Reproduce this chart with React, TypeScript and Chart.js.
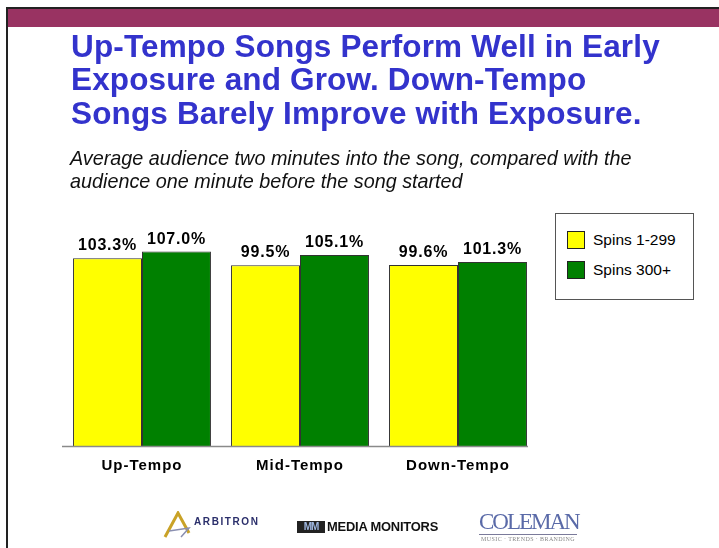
import React, { useEffect, useRef } from "react";
import { Chart, registerables } from "chart.js";

Chart.register(...registerables);

const categories: string[] = ["Up-Tempo", "Mid-Tempo", "Down-Tempo"];
const seriesLabels: string[] = ["Spins 1-299", "Spins 300+"];
const spinsLow: number[] = [103.3, 99.5, 99.6];
const spinsHigh: number[] = [107.0, 105.1, 101.3];
const seriesColors: string[] = ["#FFFF00", "#008000"];
const titleLines: string[] = [
  "Up-Tempo Songs Perform Well in Early",
  "Exposure and Grow. Down-Tempo",
  "Songs Barely Improve with Exposure.",
];
const subtitleLines: string[] = [
  "Average audience two minutes into the song, compared with the",
  "audience one minute before the song started",
];

const FONT = 'Arial, "Liberation Sans", sans-serif';

const labelPlugin = {
  id: "labels",
  afterDatasetsDraw(chart: any) {
    const ctx = chart.ctx;
    const area = chart.chartArea;
    const xScale = chart.scales.x;
    const yScale = chart.scales.y;
    const y0 = yScale.getPixelForValue(0);
    const lastMeta = chart.getDatasetMeta(chart.data.datasets.length - 1);
    const lastBar: any = lastMeta.data[lastMeta.data.length - 1];
    const right = lastBar.x + lastBar.width / 2 + 1;
    ctx.save();
    ctx.strokeStyle = "#8a8a8a";
    ctx.lineWidth = 1.5;
    ctx.beginPath();
    ctx.moveTo(area.left - 1, y0 + 0.5);
    ctx.lineTo(right, y0 + 0.5);
    ctx.stroke();

    ctx.fillStyle = "#000";
    ctx.textAlign = "center";
    ctx.textBaseline = "alphabetic";
    ctx.font = `bold 16px ${FONT}`;
    (ctx as any).letterSpacing = "0.8px";
    chart.data.datasets.forEach((ds: any, di: number) => {
      const meta = chart.getDatasetMeta(di);
      meta.data.forEach((el: any, i: number) => {
        ctx.fillText(`${Number(ds.data[i]).toFixed(1)}%`, el.x, el.y - 8);
      });
    });

    ctx.font = `bold 15px ${FONT}`;
    (ctx as any).letterSpacing = "1px";
    categories.forEach((c, i) => {
      ctx.fillText(c, xScale.getPixelForValue(i), y0 + 24);
    });
    ctx.restore();
  },
};

function ChartCanvas() {
  const ref = useRef<HTMLCanvasElement | null>(null);
  useEffect(() => {
    if (!ref.current) return;
    const chart = new Chart(ref.current, {
      type: "bar",
      data: {
        labels: categories,
        datasets: [
          {
            label: seriesLabels[0],
            data: spinsLow,
            backgroundColor: seriesColors[0],
            borderColor: "#333333",
            borderWidth: 1,
            categoryPercentage: 0.873,
            barPercentage: 1.0,
          },
          {
            label: seriesLabels[1],
            data: spinsHigh,
            backgroundColor: seriesColors[1],
            borderColor: "#333333",
            borderWidth: 1,
            categoryPercentage: 0.873,
            barPercentage: 1.0,
          },
        ],
      },
      options: {
        responsive: false,
        animation: false,
        devicePixelRatio: 1,
        layout: { padding: { left: 63, right: 182, top: 228, bottom: 102 } },
        plugins: {
          legend: { display: false },
          title: { display: false },
          tooltip: { enabled: false },
        },
        scales: {
          x: { display: false, offset: true },
          y: { display: false, min: 0, max: 120 },
        },
      },
      plugins: [labelPlugin],
    });
    return () => chart.destroy();
  }, []);
  return (
    <canvas
      ref={ref}
      width={719}
      height={548}
      style={{ position: "absolute", left: 0, top: 0, width: 719, height: 548 }}
    />
  );
}

export default function App() {
  return (
    <div
      style={{
        position: "absolute",
        left: 0,
        top: 0,
        width: 719,
        height: 548,
        background: "#ffffff",
        overflow: "hidden",
        fontFamily: FONT,
      }}
    >
      <div style={{ position: "absolute", left: 6, top: 7, width: 713, height: 2, background: "#222" }} />
      <div style={{ position: "absolute", left: 6, top: 7, width: 2, height: 541, background: "#222" }} />
      <div style={{ position: "absolute", left: 8, top: 9, width: 711, height: 18, background: "#993362" }} />

      <ChartCanvas />

      <div
        style={{
          position: "absolute",
          left: 71,
          top: 29.5,
          fontSize: 31.5,
          lineHeight: "33.5px",
          fontWeight: "bold",
          letterSpacing: "0.15px",
          color: "#3333CC",
          whiteSpace: "nowrap",
        }}
      >
        {titleLines.map((l, i) => (
          <div key={i}>{l}</div>
        ))}
      </div>

      <div
        style={{
          position: "absolute",
          left: 70,
          top: 147,
          fontSize: 19.8,
          lineHeight: "23px",
          fontStyle: "italic",
          color: "#111",
          whiteSpace: "nowrap",
        }}
      >
        {subtitleLines.map((l, i) => (
          <div key={i}>{l}</div>
        ))}
      </div>

      <div
        style={{
          position: "absolute",
          left: 555,
          top: 213,
          width: 137,
          height: 85,
          border: "1px solid #555",
          background: "#fff",
        }}
      >
        {seriesLabels.map((l, i) => (
          <div key={i} style={{ position: "absolute", left: 11, top: 17 + i * 30, height: 18, display: "flex", alignItems: "center" }}>
            <div style={{ width: 16, height: 16, background: seriesColors[i], border: "1px solid #222" }} />
            <span style={{ marginLeft: 8, fontSize: 15.5, color: "#000", whiteSpace: "nowrap" }}>{l}</span>
          </div>
        ))}
      </div>

      <svg style={{ position: "absolute", left: 161, top: 511 }} width={34} height={28} viewBox="0 0 34 28">
        <path d="M4 26 L17 2 L28 22" fill="none" stroke="#c9a227" strokeWidth={3} />
        <path d="M8 20 L28 17 L20 26" fill="none" stroke="#8a8fb0" strokeWidth={1.5} />
      </svg>
      <div style={{ position: "absolute", left: 194, top: 516, fontSize: 10, fontWeight: "bold", letterSpacing: "1.6px", color: "#2b2f6b" }}>
        ARBITRON
      </div>

      <div style={{ position: "absolute", left: 297, top: 521, width: 28, height: 12, background: "#222", display: "flex", alignItems: "center", justifyContent: "center" }}>
        <span style={{ fontSize: 10, fontWeight: "bold", color: "#9fb7e0", letterSpacing: "-1px", lineHeight: "12px" }}>MM</span>
      </div>
      <div style={{ position: "absolute", left: 327, top: 520, fontSize: 12.9, fontWeight: "bold", color: "#111", letterSpacing: "-0.2px", lineHeight: "14px" }}>
        MEDIA MONITORS
      </div>

      <div style={{ position: "absolute", left: 479, top: 510, width: 98, textAlign: "center" }}>
        <div style={{ fontFamily: '"Liberation Serif", "DejaVu Serif", serif', fontSize: 23, color: "#5a6aa8", letterSpacing: "-2px", lineHeight: "23px" }}>
          COLEMAN
        </div>
        <div style={{ borderTop: "1px solid #7a7a9a", marginTop: 1, fontFamily: '"Liberation Serif", serif', fontSize: 6, color: "#888", letterSpacing: "0.4px", lineHeight: "8px" }}>
          MUSIC · TRENDS · BRANDING
        </div>
      </div>
    </div>
  );
}
